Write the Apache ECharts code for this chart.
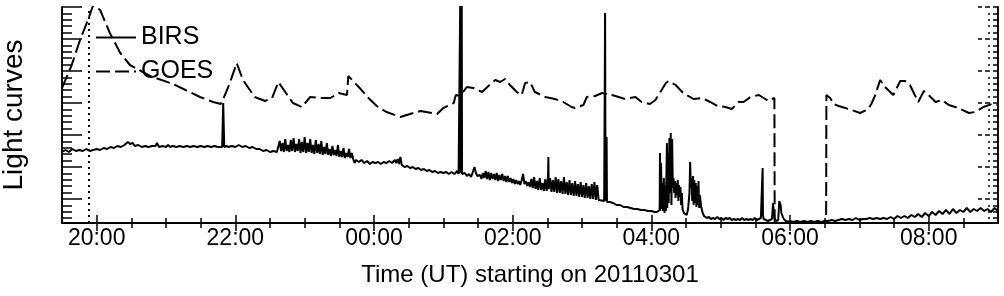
<!DOCTYPE html>
<html>
<head>
<meta charset="utf-8">
<script src="https://cdn.jsdelivr.net/npm/echarts@6/dist/echarts.min.js"></script>
<style>
html,body{margin:0;padding:0;background:#fff;}
#chart{width:1004px;height:296px;}
</style>
</head>
<body>
<div id="chart"></div>
<script>
// Time in hours since 2011-03-01 00:00 UT; intensity in arbitrary (unlabelled) units
var seriesNames = ['BIRS', 'GOES'];
var xTitle = 'Time (UT) starting on 20110301';
var yTitle = 'Light curves';
var xMajorTicks = [20, 22, 24, 26, 28, 30, 32];
var xMinorTicks = [20.5, 21, 21.5, 22.5, 23, 23.5, 24.5, 25, 25.5, 26.5, 27, 27.5, 28.5, 29, 29.5, 30.5, 31, 31.5, 32.5];
var yMajorTicks = [24, 56, 88, 120, 152, 184, 216];
var yMinorTicks = [4.8, 11.2, 17.6, 30.4, 36.8, 43.2, 49.6, 62.4, 68.8, 75.2, 81.6, 94.4, 100.8, 107.2, 113.6,
  126.4, 132.8, 139.2, 145.6, 158.4, 164.8, 171.2, 177.6, 190.4, 196.8, 203.2, 209.6];
var flareTime = 19.875;

var birsData = [
[19.50,71],[19.55,73],[19.60,71],[19.65,74],[19.70,72],[19.75,73],[19.80,72],[19.85,74],[19.90,72],[19.95,73],
[20.00,74],[20.05,73],[20.10,75],[20.15,74],[20.20,76],[20.25,75],[20.30,77],[20.35,76],[20.40,78],[20.42,80],
[20.45,81],[20.48,79],[20.52,80],[20.55,77],[20.60,78],[20.65,76],[20.70,77],[20.75,76],[20.80,77],[20.85,77],
[20.87,80],[20.90,76],[20.95,77],[21.00,76],[21.03,78],[21.06,76],[21.10,77],[21.15,76],[21.20,77],[21.25,76],
[21.30,77],[21.35,76],[21.40,77],[21.45,76],[21.50,77],[21.55,76],[21.60,77],[21.65,76],[21.70,77],[21.75,76],
[21.81,76],[21.825,120],[21.84,76],[21.87,77],[21.90,76],[21.95,77],[22.00,76],[22.05,78],[22.10,76],[22.15,77],
[22.20,75],[22.25,76],[22.30,74],[22.35,74],[22.40,72],[22.45,73],[22.50,71],[22.55,72],[22.60,71],
[22.62,71],[22.64,82],[22.66,72],[22.68,80],[22.70,71],[22.72,84],[22.74,72],[22.76,78],[22.78,71],[22.80,83],
[22.82,72],[22.84,85],[22.86,71],[22.88,79],[22.90,72],[22.92,84],[22.94,70],[22.96,81],[22.98,71],[23.00,86],
[23.02,70],[23.04,80],[23.06,71],[23.08,84],[23.10,70],[23.12,78],[23.14,69],[23.16,83],[23.18,70],[23.20,79],
[23.22,69],[23.24,82],[23.26,68],[23.28,76],[23.30,69],[23.32,80],[23.34,68],[23.36,74],[23.38,67],[23.40,77],
[23.42,68],[23.44,73],[23.46,67],[23.48,78],[23.50,66],[23.52,72],[23.54,66],[23.56,75],[23.58,65],[23.60,70],
[23.62,66],[23.64,74],[23.66,65],[23.68,70],
[23.70,64],[23.72,60],[23.74,63],[23.78,61],[23.82,63],[23.86,60],[23.90,62],[23.94,59],[23.98,61],[24.02,60],
[24.06,61],[24.10,59],[24.14,61],[24.18,60],[24.22,62],[24.26,60],[24.30,63],[24.32,60],[24.34,64],[24.36,59],
[24.38,66],[24.40,58],[24.44,56],[24.48,57],[24.52,55],[24.56,56],[24.60,54],[24.64,55],[24.68,53],[24.72,54],
[24.76,52],[24.80,53],[24.84,51],[24.88,52],[24.92,50],[24.96,51],[25.00,50],[25.04,51],[25.08,49],[25.12,51],
[25.16,49],[25.20,52],[25.22,49],[25.24,51],[25.245,230],[25.25,50],[25.255,230],[25.26,50],[25.265,230],[25.27,49],
[25.28,48],[25.31,50],[25.34,47],[25.37,49],[25.40,46],[25.43,52],[25.45,56],[25.47,50],[25.49,47],[25.51,45],
[25.53,48],[25.55,44],[25.57,50],[25.59,45],[25.61,52],[25.63,44],[25.65,51],[25.67,43],[25.69,50],[25.71,44],
[25.73,49],[25.75,43],[25.77,50],[25.79,42],[25.81,48],[25.83,43],[25.85,49],[25.87,42],[25.89,47],[25.91,41],
[25.93,47],[25.95,41],[25.97,45],[25.99,40],[26.01,44],[26.03,39],[26.05,43],[26.07,39],[26.09,42],[26.11,38],
[26.13,43],[26.15,49],[26.17,39],[26.19,42],[26.21,37],[26.23,41],[26.25,36],
[26.27,44],[26.29,35],[26.31,46],[26.33,34],[26.35,42],[26.37,33],[26.39,45],[26.41,33],[26.43,40],[26.45,32],
[26.47,44],[26.49,32],[26.51,47],[26.515,66],[26.52,34],[26.54,45],[26.56,31],[26.58,43],[26.60,31],[26.62,46],
[26.64,30],[26.66,44],[26.68,30],[26.70,42],[26.72,29],[26.74,46],[26.76,29],[26.78,41],[26.80,28],[26.82,43],
[26.84,28],[26.86,40],[26.88,27],[26.90,42],[26.92,27],[26.94,39],[26.96,26],[26.98,41],[27.00,26],[27.02,38],
[27.04,25],[27.06,40],[27.08,25],[27.10,37],[27.12,24],[27.14,39],[27.16,24],[27.18,41],[27.20,23],[27.22,38],
[27.24,23],[27.26,22],[27.32,22],[27.333,210],[27.34,22],[27.355,86],[27.36,21],
[27.40,21],[27.45,20],[27.50,18],[27.55,18],[27.60,16],[27.65,16],[27.70,15],[27.75,14],[27.80,14],[27.85,13],
[27.90,13],[27.95,12],[28.00,12],[28.05,11],[28.08,11],
[28.10,12],[28.12,13],[28.125,70],[28.13,12],[28.14,60],[28.15,14],[28.16,40],[28.17,12],[28.18,45],[28.19,10],
[28.20,38],[28.21,12],[28.225,80],[28.23,15],[28.24,70],[28.25,20],[28.26,85],[28.27,30],[28.28,90],[28.29,18],
[28.30,84],[28.31,35],[28.32,45],[28.33,30],[28.34,42],[28.35,25],[28.36,40],[28.37,28],[28.38,43],[28.39,22],
[28.40,38],[28.41,26],[28.42,36],[28.43,18],[28.44,30],[28.45,14],[28.47,10],[28.49,12],[28.51,8],[28.53,14],
[28.55,30],[28.56,61],[28.57,35],[28.58,45],[28.59,22],[28.60,47],[28.61,18],[28.62,43],[28.63,20],[28.64,40],
[28.65,16],[28.66,37],[28.67,18],[28.68,42],[28.69,15],[28.70,28],[28.72,16],[28.74,10],[28.76,7],[28.78,6],
[28.80,5],[28.83,6],[28.86,4],[28.89,5],[28.92,4],[28.95,6],[28.98,4],[29.01,5],[29.04,3],[29.07,5],
[29.10,4],[29.13,5],[29.16,3],[29.19,4],[29.22,3],[29.25,4],[29.28,3],[29.31,5],[29.34,3],[29.37,4],
[29.40,3],[29.43,4],[29.46,3],[29.49,5],[29.52,3],[29.55,4],[29.58,5],[29.60,6],[29.605,55],[29.61,8],
[29.62,4],[29.65,3],[29.68,2],[29.71,3],[29.74,4],[29.755,20],[29.765,21],[29.775,5],[29.80,2],[29.83,3],
[29.845,22],[29.855,20],[29.865,18],[29.875,10],[29.89,8],[29.91,4],[29.94,2],[29.97,1],[30.00,2],[30.05,1],
[30.10,2],[30.15,1],[30.20,2],[30.25,1],[30.30,2],[30.35,1],[30.40,2],[30.45,1],[30.50,2],[30.55,2],
[30.60,3],[30.65,2],[30.70,3],[30.75,4],[30.80,3],[30.85,4],[30.90,3],[30.95,5],[31.00,3],[31.05,4],
[31.10,4],[31.15,5],[31.20,4],[31.25,5],[31.30,4],[31.35,5],[31.40,4],[31.45,6],[31.50,4],[31.55,7],
[31.60,5],[31.65,7],[31.70,5],[31.75,8],[31.80,6],[31.85,9],[31.90,6],[31.95,10],[32.00,7],[32.05,11],
[32.10,8],[32.15,12],[32.20,9],[32.25,13],[32.30,9],[32.35,14],[32.40,10],[32.45,13],[32.50,11],[32.55,15],
[32.60,11],[32.65,14],[32.70,12],[32.75,15],[32.80,12],[32.85,14],[32.90,11],[32.95,15],[33.00,12]
];

var goesData = [
[19.50,135],[19.52,133],[19.64,158],[19.76,183],[19.875,203],[19.95,218],[20.05,213],[20.19,190],[20.34,170],
[20.48,158],[20.77,147],[21.10,139],[21.49,126],[21.68,121],[21.79,119],[21.82,123],[21.92,140],[22.02,160],
[22.11,143],[22.18,136],[22.28,126],[22.43,122],[22.53,125],[22.62,141],[22.72,131],[22.83,120],[22.96,116],
[23.08,126],[23.25,125],[23.37,125],[23.49,130],[23.61,128],[23.63,147],[23.78,136],[23.92,125],[24.04,117],
[24.18,111],[24.38,106],[24.57,110],[24.67,112],[24.91,109],[25.00,115],[25.15,120],[25.18,128],[25.24,127],
[25.34,136],[25.43,135],[25.56,131],[25.65,137],[25.75,143],[25.82,141],[25.89,144],[25.96,138],[26.06,131],
[26.13,128],[26.18,140],[26.25,141],[26.32,131],[26.47,126],[26.61,124],[26.73,121],[26.85,116],[26.90,115],
[27.02,118],[27.07,126],[27.19,127],[27.29,130],[27.43,128],[27.53,126],[27.62,124],[27.77,126],[27.86,121],
[27.98,119],[28.06,123],[28.13,131],[28.21,140],[28.25,142],[28.35,138],[28.46,130],[28.51,128],[28.61,124],
[28.73,125],[28.85,121],[28.95,117],[29.07,116],[29.16,114],[29.26,121],[29.33,121],[29.43,126],[29.55,128],
[29.62,125],[29.69,122],[29.775,125],[29.78,-30],[30.52,-30],[30.525,128],[30.58,125],[30.63,119],[30.70,117],
[30.75,116],[30.89,113],[31.01,110],[31.13,114],[31.18,120],[31.23,128],[31.30,143],[31.37,136],[31.49,128],
[31.54,135],[31.59,142],[31.66,142],[31.73,138],[31.80,128],[31.85,121],[31.93,132],[32.00,128],[32.10,121],
[32.19,123],[32.29,118],[32.43,115],[32.58,110],[32.67,111],[32.79,116],[32.91,119],[33.00,118]
];

var FONT = '"Liberation Sans", Arial, Helvetica, sans-serif';
var X_MIN = 19.5, X_MAX = 33, Y_MIN = 0, Y_MAX = 216;

function fmtHour(v) {
  var h = Math.round(v) % 24;
  return (h < 10 ? '0' : '') + h + ':00';
}

function xAxisDef(pos, ticks, len, withLabels) {
  var a = {
    type: 'value', min: X_MIN, max: X_MAX, position: pos,
    axisLine: { show: true, lineStyle: { color: '#000', width: 1.5 } },
    axisTick: { show: true, inside: true, length: len, customValues: ticks, lineStyle: { color: '#000', width: 1.5 } },
    axisLabel: { show: false },
    splitLine: { show: false }
  };
  if (withLabels) {
    a.axisLabel = { show: true, customValues: ticks, formatter: fmtHour, color: '#000',
      fontFamily: FONT, fontSize: 23, margin: 4 };
    a.name = xTitle;
    a.nameLocation = 'middle';
    a.nameGap = 40;
    a.nameTextStyle = { color: '#000', fontFamily: FONT, fontSize: 24 };
  }
  return a;
}

function yAxisDef(pos, ticks, len, dashed, withName) {
  var a = {
    type: 'value', min: Y_MIN, max: Y_MAX, position: pos,
    axisLine: { show: true, lineStyle: { color: '#000', width: 1.5 } },
    axisTick: { show: true, inside: true, length: len, customValues: ticks,
      lineStyle: { color: '#000', width: 1.5, type: dashed ? [5, 3] : 'solid' } },
    axisLabel: { show: false },
    splitLine: { show: false }
  };
  if (withName) {
    a.name = yTitle;
    a.nameLocation = 'middle';
    a.nameGap = 34;
    a.nameTextStyle = { color: '#000', fontFamily: FONT, fontSize: 28 };
  }
  return a;
}

var chart = echarts.init(document.getElementById('chart'), null, { renderer: 'canvas' });
chart.setOption({
  animation: false,
  backgroundColor: '#fff',
  grid: { left: 62, right: 6, top: 7, bottom: 73, containLabel: false, outerBoundsMode: 'none' },
  legend: {
    data: seriesNames,
    orient: 'vertical',
    left: 90, top: 20,
    itemWidth: 40, itemHeight: 14, itemGap: 9,
    itemStyle: { opacity: 0, color: 'rgba(0,0,0,0)', borderWidth: 0 },
    textStyle: { color: '#000', fontFamily: FONT, fontSize: 25 },
    inactiveColor: '#000'
  },
  xAxis: [
    xAxisDef('bottom', xMajorTicks, 8, true),
    xAxisDef('bottom', xMinorTicks, 5, false),
    xAxisDef('top', xMajorTicks, 8, false),
    xAxisDef('top', xMinorTicks, 5, false)
  ],
  yAxis: [
    yAxisDef('left', yMajorTicks, 20, false, true),
    yAxisDef('left', yMinorTicks, 10, false, false),
    yAxisDef('right', yMajorTicks, 20, true, false),
    yAxisDef('right', yMinorTicks, 10, true, false)
  ],
  series: [
    {
      name: seriesNames[0], type: 'line', xAxisIndex: 0, yAxisIndex: 0,
      data: birsData, showSymbol: false, symbol: 'none', clip: true,
      lineStyle: { color: '#000', width: 2 },
      itemStyle: { color: '#000' },
      markLine: {
        silent: true, symbol: ['none', 'none'], label: { show: false },
        lineStyle: { color: '#000', width: 2, type: [2, 4] },
        data: [{ xAxis: flareTime }]
      }
    },
    {
      name: seriesNames[1], type: 'line', xAxisIndex: 0, yAxisIndex: 0,
      data: goesData, showSymbol: false, symbol: 'none', clip: true,
      lineStyle: { color: '#000', width: 2, type: [14, 5] },
      itemStyle: { color: '#000' }
    }
  ]
});
</script>
</body>
</html>
